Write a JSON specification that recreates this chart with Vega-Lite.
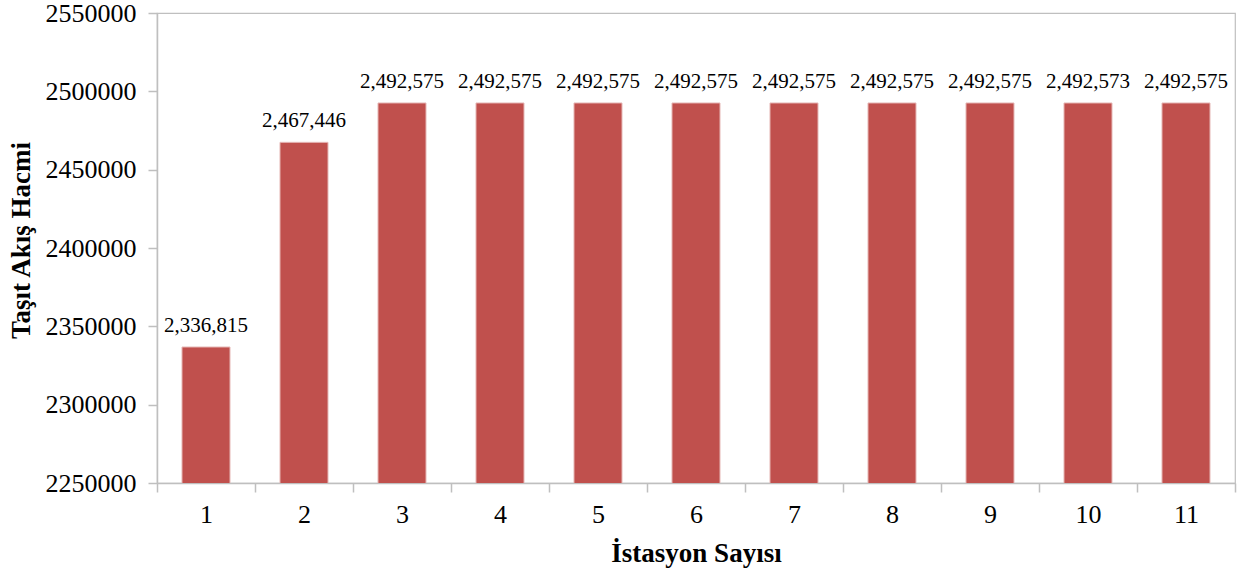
{
  "$schema": "https://vega.github.io/schema/vega-lite/v6.json",
  "autosize": {"type": "none"},
  "padding": {"left": 157, "top": 13, "right": 24, "bottom": 91},
  "width": 1078,
  "height": 470,
  "background": "white",
  "config": {
    "font": "Liberation Serif",
    "view": {"stroke": "#BFBFBF", "strokeWidth": 1.2},
    "axis": {
      "domainColor": "#BFBFBF",
      "domainWidth": 1.5,
      "tickColor": "#BFBFBF",
      "tickWidth": 1.5,
      "tickSize": 9,
      "grid": false,
      "labelFont": "Liberation Serif",
      "labelFontSize": 26,
      "labelColor": "#000000",
      "titleFont": "Liberation Serif",
      "titleFontSize": 27,
      "titleFontWeight": "bold",
      "titleColor": "#000000"
    }
  },
  "data": {
    "values": [
      {"istasyon": 1, "akis": 2336815},
      {"istasyon": 2, "akis": 2467446},
      {"istasyon": 3, "akis": 2492575},
      {"istasyon": 4, "akis": 2492575},
      {"istasyon": 5, "akis": 2492575},
      {"istasyon": 6, "akis": 2492575},
      {"istasyon": 7, "akis": 2492575},
      {"istasyon": 8, "akis": 2492575},
      {"istasyon": 9, "akis": 2492575},
      {"istasyon": 10, "akis": 2492573},
      {"istasyon": 11, "akis": 2492575}
    ]
  },
  "encoding": {
    "x": {
      "field": "istasyon",
      "type": "ordinal",
      "scale": {"paddingInner": 0, "paddingOuter": 0},
      "axis": {
        "title": "İstasyon Sayısı",
        "labelAngle": 0,
        "labelPadding": 9,
        "tickBand": "extent",
        "titleBaseline": "middle",
        "titleY": 70
      }
    },
    "y": {
      "field": "akis",
      "type": "quantitative",
      "scale": {"domain": [2250000, 2550000], "zero": false, "nice": false},
      "axis": {
        "title": "Taşıt Akış Hacmi",
        "values": [2250000, 2300000, 2350000, 2400000, 2450000, 2500000, 2550000],
        "format": "d",
        "labelPadding": 12,
        "titleX": -136,
        "titleY": 227,
        "titleBaseline": "middle"
      }
    }
  },
  "layer": [
    {
      "mark": {
        "type": "bar",
        "clip": true,
        "color": "#C0504D",
        "stroke": "#E6B9B8",
        "strokeWidth": 1,
        "width": {"band": 0.49}
      }
    },
    {
      "mark": {
        "type": "text",
        "baseline": "alphabetic",
        "dy": -15,
        "fontSize": 21,
        "font": "Liberation Serif",
        "color": "#000000"
      },
      "encoding": {
        "text": {"field": "akis", "type": "quantitative", "format": ","}
      }
    }
  ]
}
